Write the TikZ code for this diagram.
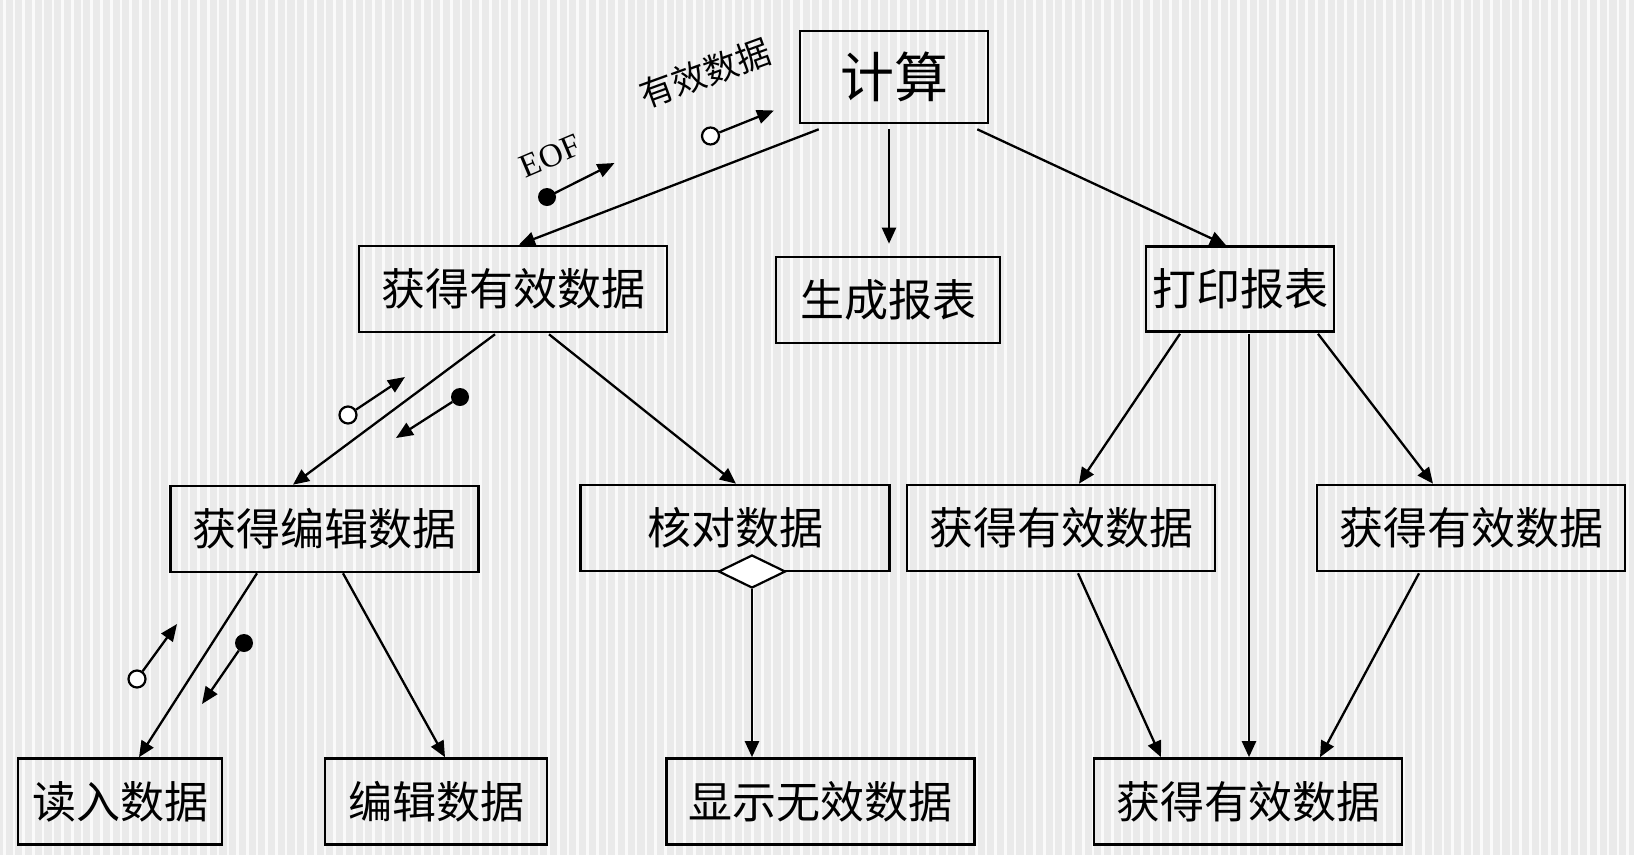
\documentclass[tikz,border=0pt]{standalone}
\usepackage{fontspec}
\setmainfont{Liberation Serif}
\newfontfamily\cjk{Noto Sans CJK SC}
\usetikzlibrary{arrows.meta,shapes.geometric,calc}
\definecolor{bgc}{RGB}{234,234,234}
\definecolor{stripec}{RGB}{250,250,250}
\begin{document}
\begin{tikzpicture}[x=1pt,y=-1pt,
  pbox/.style={draw=black,line width=2.6pt,minimum height=86pt,inner sep=0pt,
    font=\cjk\fontsize{44}{44}\selectfont},
  flow/.style={line width=2.3pt,-{Triangle[length=16pt,width=14pt]}},
  cflow/.style={line width=2.3pt,-{Triangle[length=17pt,width=14pt]}},
  odot/.style={circle,draw=black,line width=2.2pt,fill=white,minimum size=17pt,inner sep=0pt},
  fdot/.style={circle,fill=black,minimum size=18pt,inner sep=0pt},
  dec/.style={diamond,draw=black,line width=2.2pt,fill=white,minimum width=67pt,minimum height=33pt,inner sep=0pt}]
\useasboundingbox (0,0) rectangle (1634,855);
\fill[bgc] (0,0) rectangle (1634,855);
\foreach \i in {0,...,168} \fill[stripec] ({\i*9.72+3},0) rectangle ++(2.6,855);

% boxes
\node[pbox,minimum width=188pt,minimum height=92pt,font=\cjk\fontsize{54}{54}\selectfont] (calc) at (894,77) {计算};
\node[pbox,minimum width=308pt] (getA) at (513,289) {获得有效数据};
\node[pbox,minimum width=224pt] (gen) at (888,300) {生成报表};
\node[pbox,minimum width=188pt,minimum height=85pt] (print) at (1240,289) {打印报表};
\node[pbox,minimum width=308pt] (getE) at (324.5,529) {获得编辑数据};
\node[pbox,minimum width=309pt] (check) at (735,528) {核对数据};
\node[pbox,minimum width=308pt] (getB) at (1061,528) {获得有效数据};
\node[pbox,minimum width=308pt] (getC) at (1471,528) {获得有效数据};
\node[pbox,minimum width=204pt] (read) at (120,801.5) {读入数据};
\node[pbox,minimum width=222pt] (edit) at (436,801.5) {编辑数据};
\node[pbox,minimum width=308pt] (show) at (820.5,801.5) {显示无效数据};
\node[pbox,minimum width=308pt] (getD) at (1248,801.5) {获得有效数据};
\node[dec] (chk) at (752,571.5) {};

% connectors
\draw[flow] ($(calc.south west)+(20,5)$) -- ($(getA.north)+(6,0)$);
\draw[flow] ($(calc.south)+(-5,5)$) -- ($(gen.north)+(1,-12)$);
\draw[flow] ($(calc.south east)+(-12,5)$) -- ($(print.north)+(-14,0)$);
\draw[flow] ($(getA.south)+(-18,1)$) -- ($(getE.north)+(-31.5,0)$);
\draw[flow] ($(getA.south)+(36,1)$) -- ($(check.north)+(1,0)$);
\draw[flow] ($(getE.south)+(-67.5,0)$) -- ($(read.north)+(19,0)$);
\draw[flow] ($(getE.south)+(18.5,0)$) -- ($(edit.north)+(9,0)$);
\draw[flow] (chk.south) -- (chk.south |- show.north);
\draw[flow] ($(print.south)+(-60,1)$) -- ($(getB.north)+(18,0)$);
\draw[flow] ($(print.south)+(9,1)$) -- ($(getD.north)+(1,0)$);
\draw[flow] ($(print.south)+(78,1)$) -- ($(getC.north)+(-38,0)$);
\draw[flow] ($(getB.south)+(17,1)$) -- ($(getD.north)+(-87,0)$);
\draw[flow] ($(getC.south)+(-52,1)$) -- ($(getD.north)+(72,0)$);

% data couples
\coordinate (eoftip) at (614.5,163);
\draw[cflow] (547,197) -- (eoftip);
\node[fdot] (eofdot) at (547,197) {};
\node[rotate=23,font=\fontsize{33}{33}\selectfont] (eoflab) at (550,156) {EOF};

\coordinate (vtip) at (774,110.5);
\node[odot] (vdot) at (710.5,136) {};
\draw[cflow] (vdot) -- (vtip);
\node[rotate=20,font=\cjk\fontsize{34}{34}\selectfont] (vlab) at (705,73) {有效数据};

\coordinate (c1tip) at (405,377);
\node[odot] (c1) at (348,415) {};
\draw[cflow] (c1) -- (c1tip);
\coordinate (c2tip) at (396,438);
\node[fdot] (c2) at (460,397) {};
\draw[cflow] (c2) -- (c2tip);

\coordinate (c3tip) at (177,624);
\node[odot] (c3) at (137,679) {};
\draw[cflow] (c3) -- (c3tip);
\coordinate (c4tip) at (202,704);
\node[fdot] (c4) at (244,643) {};
\draw[cflow] (c4) -- (c4tip);
\end{tikzpicture}
\end{document}
